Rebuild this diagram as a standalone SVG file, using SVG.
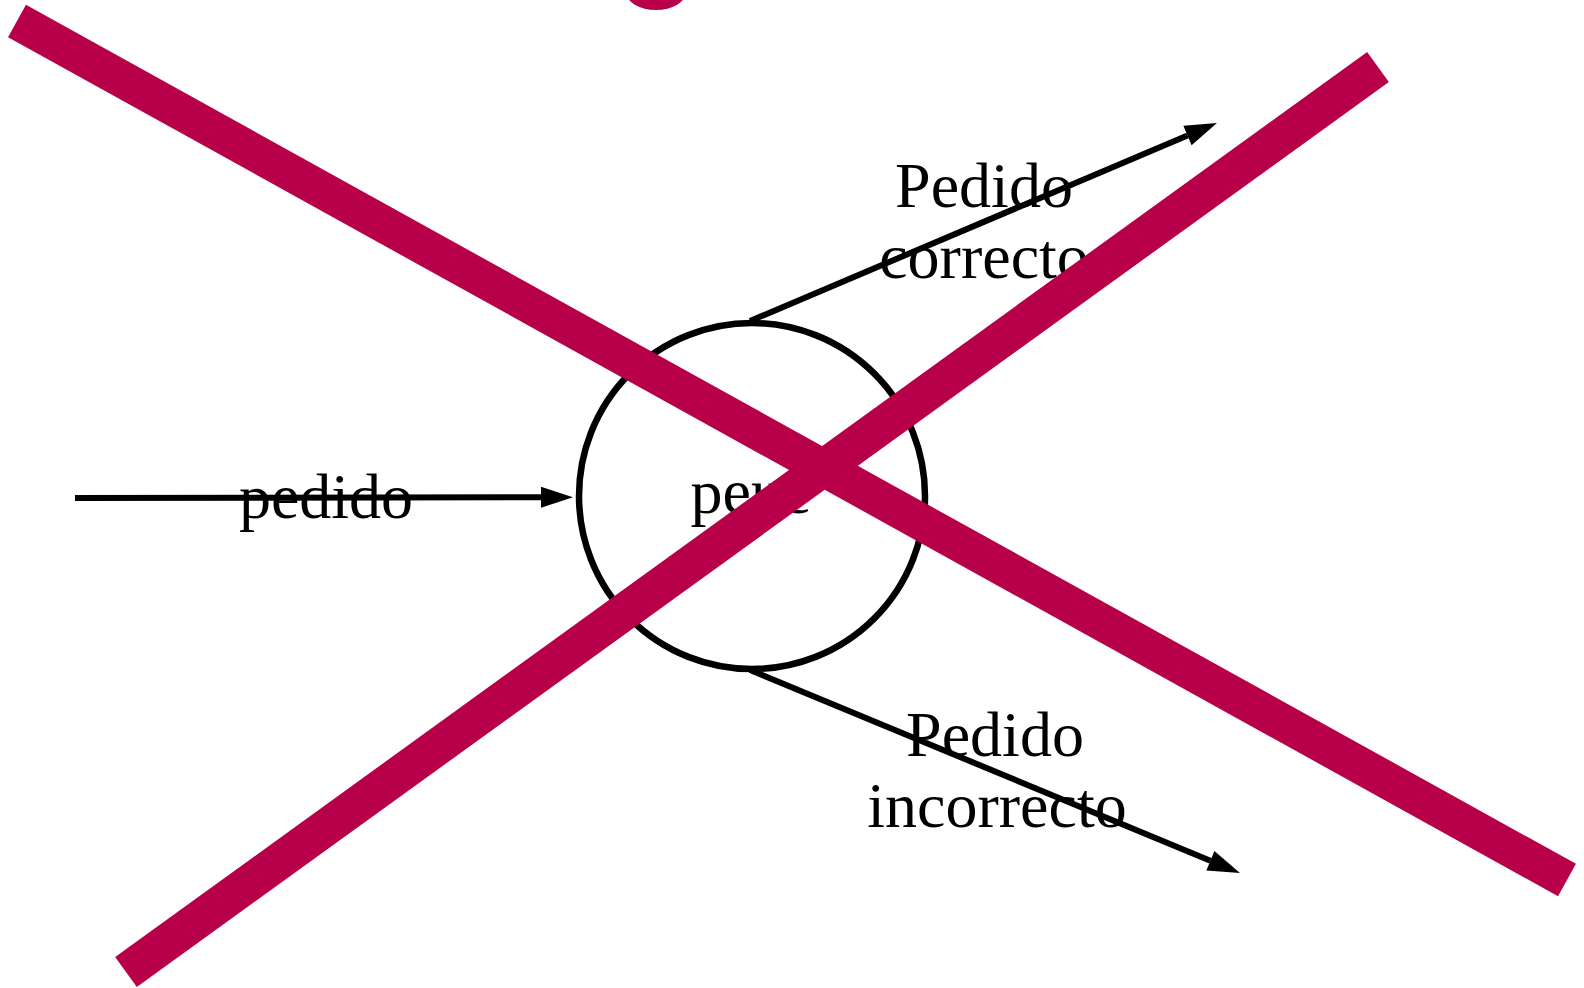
<svg xmlns="http://www.w3.org/2000/svg" width="1584" height="988" viewBox="0 0 1584 988">
  <style>
    .lbl { font-family: "Liberation Serif", "Times New Roman", serif; font-size: 64px; fill: #000; text-anchor: middle; }
    .conn { fill: none; stroke: #000; stroke-width: 6; }
    .cross { stroke: #b8004a; stroke-width: 37; stroke-linecap: butt; }
  </style>
  <defs>
    <marker id="arrow" markerUnits="userSpaceOnUse" markerWidth="34" markerHeight="22" refX="0" refY="10.5" orient="auto" overflow="visible">
      <path d="M0,0 L32,10.5 L0,21 z" fill="#000"/>
    </marker>
  </defs>
  <rect width="1584" height="988" fill="#fff"/>

  <g id="node-process">
    <circle cx="752" cy="496" r="173" fill="#fff" stroke="#000" stroke-width="6.5"/>
    <text class="lbl" x="751" y="513">peue</text>
  </g>

  <g id="connectors">
    <path class="conn" d="M75,498 L541,497.2" marker-end="url(#arrow)"/>
    <path class="conn" d="M750,321 L1187.5,135.5" marker-end="url(#arrow)"/>
    <path class="conn" d="M750,670 L1210.4,860.7" marker-end="url(#arrow)"/>
  </g>

  <g id="label-pedido">
    <text class="lbl" x="326" y="518">pedido</text>
  </g>
  <g id="label-correcto">
    <text class="lbl" x="984" y="207">Pedido</text>
    <text class="lbl" x="984" y="278">correcto</text>
  </g>
  <g id="label-incorrecto">
    <text class="lbl" x="995" y="756">Pedido</text>
    <text class="lbl" x="997" y="827">incorrecto</text>
  </g>

  <g id="cross-out">
    <ellipse cx="656" cy="-8" rx="30" ry="18" fill="#b8004a"/>
    <line class="cross" x1="17" y1="21" x2="1567" y2="880"/>
    <line class="cross" x1="126" y1="972" x2="1378" y2="67"/>
  </g>
</svg>
